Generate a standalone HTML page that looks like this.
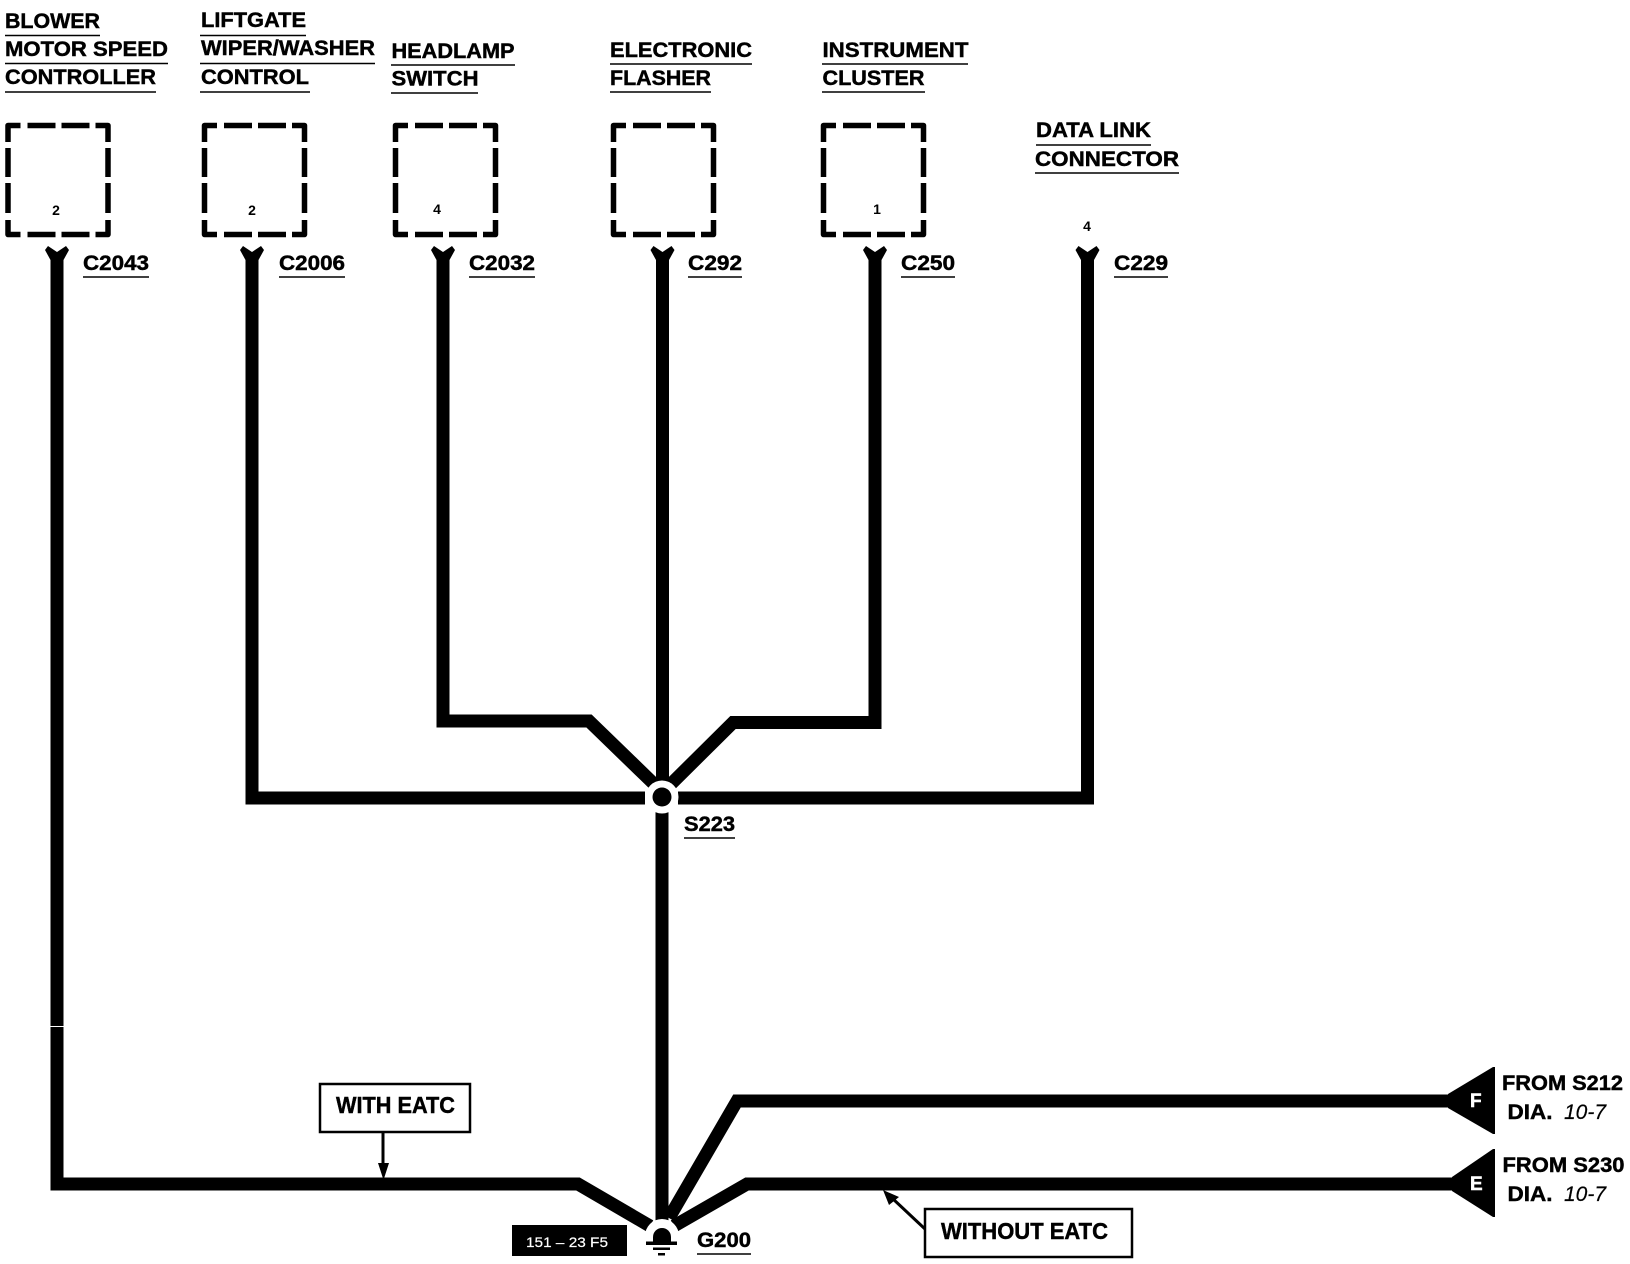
<!DOCTYPE html>
<html lang="en">
<head>
<meta charset="utf-8">
<title>Ground distribution diagram</title>
<style>
html,body{margin:0;padding:0;background:#fff;width:1630px;height:1264px;overflow:hidden}
svg{display:block}
text{font-family:"Liberation Sans",Arial,sans-serif;font-weight:bold;fill:#000;font-size:21px;stroke:#000;stroke-width:.45px}
.n{font-size:14px;stroke-width:0}
.c{font-size:21px}
.b{font-size:23px}
.i{font-weight:normal;font-style:italic;stroke-width:.2px}
.w{fill:#fff;stroke:#fff;font-size:19px}
</style>
</head>
<body>
<svg xmlns="http://www.w3.org/2000/svg" width="1630" height="1264" viewBox="0 0 1630 1264">
<rect width="1630" height="1264" fill="#fff"/>
<defs>
<g id="box"><path d="M2.5 19V2.5H15M22 2.5H50M56 2.5H84M90 2.5H102.5V19M102.5 25V54M102.5 60V90M102.5 97V111.5H90M84 111.5H56M50 111.5H22M15 111.5H2.5V97M2.5 90V60M2.5 54V25" fill="none" stroke="#000" stroke-width="5.5" stroke-linejoin="round"/></g>
<polygon id="fork" points="-12,250 -9,246 0,252 9,246 12,250 6.5,260 6.5,272 -6.5,272 -6.5,260"/>
</defs>

<!-- wires -->
<g fill="none" stroke="#000" stroke-width="13" stroke-linejoin="miter">
<path d="M57 265V1184H578L650 1226"/>
<path d="M252 265V798H645"/>
<path d="M678 798H1087.5V265"/>
<path d="M443 265V721H589L654 784"/>
<path d="M875 265V722.5H733L671 784"/>
<path d="M662.500 265V785"/>
<path d="M662 808V1222"/>
<path d="M1450 1101H737L669 1218"/>
<path d="M1454 1184H747L674 1226"/>
</g>
<rect x="48" y="1026" width="18" height="1" fill="#fff"/>

<!-- connector forks -->
<use href="#fork" x="57"/><use href="#fork" x="252"/><use href="#fork" x="443"/><use href="#fork" x="662.5"/><use href="#fork" x="875"/><use href="#fork" x="1087.500"/>

<!-- dashed boxes -->
<use href="#box" x="5.500" y="123"/>
<use href="#box" x="202" y="123"/>
<use href="#box" x="393" y="123"/>
<use href="#box" x="611" y="123"/>
<use href="#box" x="821" y="123"/>

<!-- header labels -->
<text x="5" y="28" textLength="95" lengthAdjust="spacingAndGlyphs">BLOWER</text>
<text x="5" y="56" textLength="163" lengthAdjust="spacingAndGlyphs">MOTOR SPEED</text>
<text x="5" y="84" textLength="151" lengthAdjust="spacingAndGlyphs">CONTROLLER</text>
<text x="201" y="27" textLength="105" lengthAdjust="spacingAndGlyphs">LIFTGATE</text>
<text x="201" y="55" textLength="174" lengthAdjust="spacingAndGlyphs">WIPER/WASHER</text>
<text x="201" y="84" textLength="108" lengthAdjust="spacingAndGlyphs">CONTROL</text>
<text x="391.500" y="58" textLength="123" lengthAdjust="spacingAndGlyphs">HEADLAMP</text>
<text x="391.500" y="85.500" textLength="87" lengthAdjust="spacingAndGlyphs">SWITCH</text>
<text x="610" y="57" textLength="142" lengthAdjust="spacingAndGlyphs">ELECTRONIC</text>
<text x="610" y="85" textLength="101" lengthAdjust="spacingAndGlyphs">FLASHER</text>
<text x="822.500" y="57" textLength="146" lengthAdjust="spacingAndGlyphs">INSTRUMENT</text>
<text x="822.500" y="85" textLength="102" lengthAdjust="spacingAndGlyphs">CLUSTER</text>
<text x="1036" y="137" textLength="115" lengthAdjust="spacingAndGlyphs">DATA LINK</text>
<text x="1035" y="166" textLength="144" lengthAdjust="spacingAndGlyphs">CONNECTOR</text>

<g fill="none" stroke="#000" stroke-width="1.600">
<path d="M5 35.500H100M5 63.500H168M5 92H156"/>
<path d="M200 35.500H306M200 63.500H375M200 92H310"/>
<path d="M391 65H515M391 93H478"/>
<path d="M610 64H752M610 92H711"/>
<path d="M822 64H968M822 92H925"/>
<path d="M1036 145H1151M1035 173H1179"/>
<path d="M83 277H149M279 277H345M469 277H535M688 277H742M901 277H955M1114 277H1168"/>
<path d="M684 838H735M697 1254H751"/>
</g>

<!-- pin numbers -->
<text class="n" x="56" y="215" text-anchor="middle">2</text>
<text class="n" x="252" y="215" text-anchor="middle">2</text>
<text class="n" x="437" y="214" text-anchor="middle">4</text>
<text class="n" x="877" y="214" text-anchor="middle">1</text>
<text class="n" x="1087" y="231" text-anchor="middle">4</text>

<!-- connector labels -->
<text class="c" x="83" y="270" textLength="66" lengthAdjust="spacingAndGlyphs">C2043</text>
<text class="c" x="279" y="270" textLength="66" lengthAdjust="spacingAndGlyphs">C2006</text>
<text class="c" x="469" y="270" textLength="66" lengthAdjust="spacingAndGlyphs">C2032</text>
<text class="c" x="688" y="270" textLength="54" lengthAdjust="spacingAndGlyphs">C292</text>
<text class="c" x="901" y="270" textLength="54" lengthAdjust="spacingAndGlyphs">C250</text>
<text class="c" x="1114" y="270" textLength="54" lengthAdjust="spacingAndGlyphs">C229</text>

<!-- S223 splice -->
<circle cx="662" cy="797" r="16.500" fill="#fff"/>
<circle cx="662" cy="797" r="9.500" fill="#000"/>
<text class="c" x="684" y="831" textLength="51" lengthAdjust="spacingAndGlyphs">S223</text>

<!-- G200 ground -->
<circle cx="662" cy="1236" r="17" fill="#fff"/>
<rect x="640" y="1240" width="44" height="24" fill="#fff"/>
<path d="M653 1243v-6a9 9 0 0 1 18 0v6z" fill="#000"/>
<rect x="646" y="1241.500" width="31" height="3.500"/>
<rect x="653" y="1247.500" width="17" height="2.500"/>
<rect x="658" y="1253" width="7" height="2.500"/>
<text class="c" x="697" y="1247" textLength="54" lengthAdjust="spacingAndGlyphs">G200</text>

<!-- code tag -->
<rect x="512" y="1225" width="115" height="31" fill="#000"/>
<text x="526" y="1247" style="fill:#fff;stroke:#fff;stroke-width:.2px;font-size:14px;font-weight:normal" textLength="82" lengthAdjust="spacingAndGlyphs">151 – 23 F5</text>

<!-- WITH EATC -->
<rect x="320" y="1084" width="150" height="48" fill="#fff" stroke="#000" stroke-width="2.500"/>
<text class="b" x="336" y="1113" textLength="119" lengthAdjust="spacingAndGlyphs">WITH EATC</text>
<path d="M383 1132V1165" stroke="#000" stroke-width="3" fill="none"/>
<polygon points="378,1163 389,1163 383.500,1180"/>

<!-- WITHOUT EATC -->
<rect x="925" y="1209" width="207" height="48" fill="#fff" stroke="#000" stroke-width="2.500"/>
<text class="b" x="941" y="1239" textLength="167" lengthAdjust="spacingAndGlyphs">WITHOUT EATC</text>
<path d="M925 1229L892 1198" stroke="#000" stroke-width="3" fill="none"/>
<polygon points="883,1190 899,1197 889,1205"/>

<!-- off-page connectors -->
<polygon points="1448,1094 1493,1067 1495,1067 1495,1134 1493,1134 1448,1108"/>
<polygon points="1452,1177 1493,1149 1495,1149 1495,1217 1493,1217 1452,1191"/>
<text class="w" x="1470" y="1107">F</text>
<text class="w" x="1470" y="1190">E</text>
<text x="1502" y="1090" textLength="121" lengthAdjust="spacingAndGlyphs">FROM S212</text>
<text x="1507.500" y="1119" textLength="45" lengthAdjust="spacingAndGlyphs">DIA.</text>
<text class="i" x="1564" y="1119" textLength="42" lengthAdjust="spacingAndGlyphs">10-7</text>
<text x="1502.500" y="1172" textLength="122" lengthAdjust="spacingAndGlyphs">FROM S230</text>
<text x="1507.500" y="1201" textLength="45" lengthAdjust="spacingAndGlyphs">DIA.</text>
<text class="i" x="1564" y="1201" textLength="42" lengthAdjust="spacingAndGlyphs">10-7</text>
</svg>
</body>
</html>
